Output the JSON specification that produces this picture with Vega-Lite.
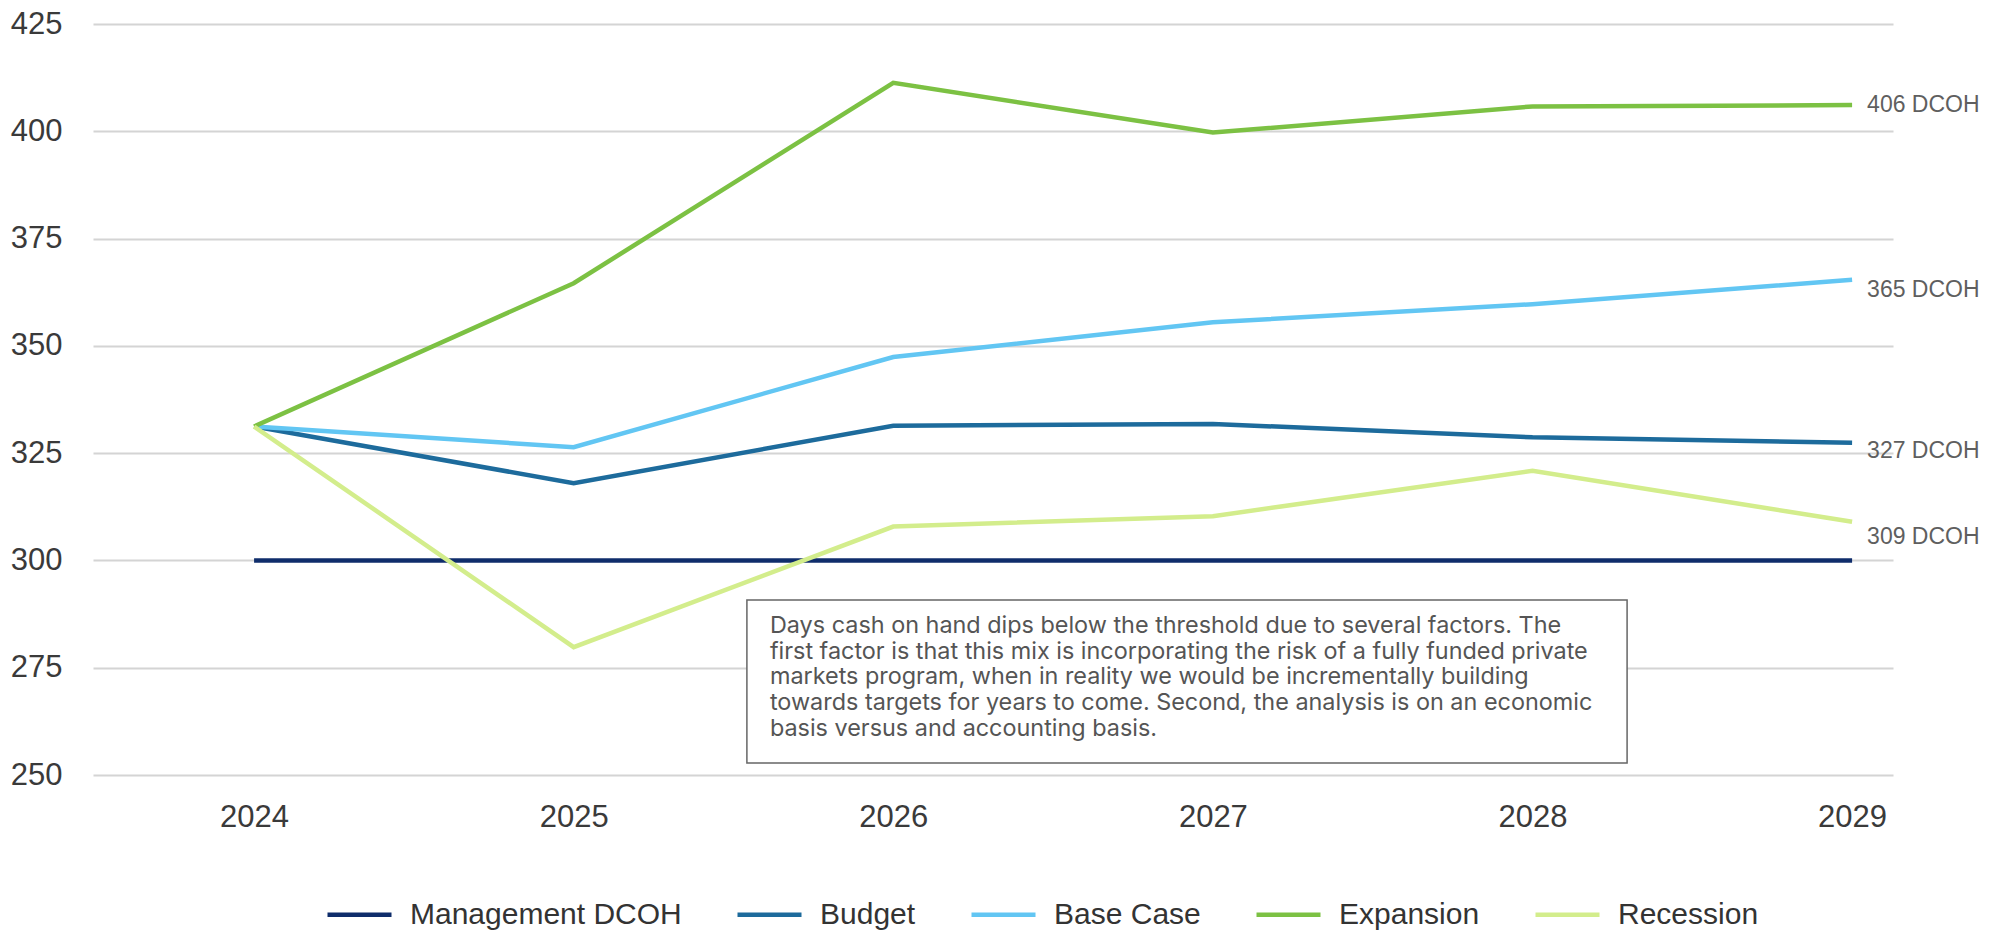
{
  "$schema": "https://vega.github.io/schema/vega-lite/v6.json",
  "autosize": "none",
  "width": 1800,
  "height": 751,
  "padding": {"left": 93, "top": 24, "right": 107, "bottom": 155},
  "background": "white",
  "config": {
    "view": {"stroke": null},
    "font": "Liberation Sans"
  },
  "datasets": {
    "series": [
      {"series": "Management DCOH", "year": 2024, "value": 300},
      {"series": "Management DCOH", "year": 2025, "value": 300},
      {"series": "Management DCOH", "year": 2026, "value": 300},
      {"series": "Management DCOH", "year": 2027, "value": 300},
      {"series": "Management DCOH", "year": 2028, "value": 300},
      {"series": "Management DCOH", "year": 2029, "value": 300},
      {"series": "Budget", "year": 2024, "value": 331.2},
      {"series": "Budget", "year": 2025, "value": 318},
      {"series": "Budget", "year": 2026, "value": 331.4},
      {"series": "Budget", "year": 2027, "value": 331.8},
      {"series": "Budget", "year": 2028, "value": 328.7},
      {"series": "Budget", "year": 2029, "value": 327.4, "label": "327 DCOH"},
      {"series": "Base Case", "year": 2024, "value": 331.2},
      {"series": "Base Case", "year": 2025, "value": 326.4},
      {"series": "Base Case", "year": 2026, "value": 347.4},
      {"series": "Base Case", "year": 2027, "value": 355.5},
      {"series": "Base Case", "year": 2028, "value": 359.7},
      {"series": "Base Case", "year": 2029, "value": 365.4, "label": "365 DCOH"},
      {"series": "Expansion", "year": 2024, "value": 331.2},
      {"series": "Expansion", "year": 2025, "value": 364.6},
      {"series": "Expansion", "year": 2026, "value": 411.3},
      {"series": "Expansion", "year": 2027, "value": 399.7},
      {"series": "Expansion", "year": 2028, "value": 405.8},
      {"series": "Expansion", "year": 2029, "value": 406.1, "label": "406 DCOH"},
      {"series": "Recession", "year": 2024, "value": 331.2},
      {"series": "Recession", "year": 2025, "value": 279.8},
      {"series": "Recession", "year": 2026, "value": 307.9},
      {"series": "Recession", "year": 2027, "value": 310.3},
      {"series": "Recession", "year": 2028, "value": 320.9},
      {"series": "Recession", "year": 2029, "value": 309, "label": "309 DCOH"}
    ],
    "note": [
      {"x": 2025.542, "x2": 2028.296, "y": 290.8, "y2": 252.8, "tx": 2025.614, "ty": 287.3,
       "text": ["Days cash on hand dips below the threshold due to several factors. The", "first factor is that this mix is incorporating the risk of a fully funded private", "markets program, when in reality we would be incrementally building", "towards targets for years to come. Second, the analysis is on an economic", "basis versus and accounting basis."]}
    ]
  },
  "layer": [
    {
      "data": {"name": "series"},
      "mark": {"type": "line", "strokeWidth": 4.5},
      "encoding": {
        "x": {
          "field": "year", "type": "quantitative",
          "scale": {"domain": [2023.496, 2029.128], "nice": false, "zero": false},
          "axis": {
            "title": null, "values": [2024, 2025, 2026, 2027, 2028, 2029], "format": "d",
            "grid": false, "domain": false, "ticks": false, "labelPadding": 27,
            "labelFontSize": 31, "labelColor": "#3a3a3a", "labelFont": "Liberation Sans"
          }
        },
        "y": {
          "field": "value", "type": "quantitative",
          "scale": {"domain": [250, 425], "nice": false, "zero": false},
          "axis": {
            "title": null, "values": [250, 275, 300, 325, 350, 375, 400, 425],
            "grid": true, "gridColor": "#d4d4d4", "gridWidth": 2,
            "domain": false, "ticks": false, "labelPadding": 31,
            "labelFontSize": 31, "labelColor": "#3a3a3a", "labelFont": "Liberation Sans"
          }
        },
        "color": {
          "field": "series", "type": "nominal",
          "scale": {
            "domain": ["Management DCOH", "Budget", "Base Case", "Expansion", "Recession"],
            "range": ["#0f2d6b", "#1d6b9c", "#62c6f3", "#7cc143", "#d3ed8c"]
          },
          "legend": {
            "title": null, "orient": "none", "direction": "horizontal",
            "legendX": 232, "legendY": 856,
            "symbolType": "stroke", "symbolSize": 4096, "symbolStrokeWidth": 4.5,
            "labelFontSize": 30, "labelColor": "#333333", "labelFont": "Liberation Sans",
            "labelOffset": 16, "columnPadding": 46, "labelLimit": 400
          }
        }
      }
    },
    {
      "data": {"name": "note"},
      "mark": {"type": "rect", "fill": "white", "stroke": "#666666", "strokeWidth": 1.5},
      "encoding": {
        "x": {"field": "x", "type": "quantitative"},
        "x2": {"field": "x2"},
        "y": {"field": "y", "type": "quantitative"},
        "y2": {"field": "y2"}
      }
    },
    {
      "data": {"name": "note"},
      "mark": {"type": "text", "align": "left", "baseline": "top", "fontSize": 23.4, "lineHeight": 25.7, "font": "Inter", "color": "#555555"},
      "encoding": {
        "x": {"field": "tx", "type": "quantitative"},
        "y": {"field": "ty", "type": "quantitative"},
        "text": {"field": "text"}
      }
    },
    {
      "data": {"name": "series"},
      "transform": [{"filter": "datum.series === 'Expansion' && datum.year === 2029"}],
      "mark": {"type": "text", "align": "left", "baseline": "middle", "dx": 15, "dy": 0, "fontSize": 23, "font": "Liberation Sans", "color": "#5f5f5f"},
      "encoding": {"x": {"field": "year", "type": "quantitative"}, "y": {"field": "value", "type": "quantitative"}, "text": {"field": "label"}}
    },
    {
      "data": {"name": "series"},
      "transform": [{"filter": "datum.series === 'Base Case' && datum.year === 2029"}],
      "mark": {"type": "text", "align": "left", "baseline": "middle", "dx": 15, "dy": 10, "fontSize": 23, "font": "Liberation Sans", "color": "#5f5f5f"},
      "encoding": {"x": {"field": "year", "type": "quantitative"}, "y": {"field": "value", "type": "quantitative"}, "text": {"field": "label"}}
    },
    {
      "data": {"name": "series"},
      "transform": [{"filter": "datum.series === 'Budget' && datum.year === 2029"}],
      "mark": {"type": "text", "align": "left", "baseline": "middle", "dx": 15, "dy": 8, "fontSize": 23, "font": "Liberation Sans", "color": "#5f5f5f"},
      "encoding": {"x": {"field": "year", "type": "quantitative"}, "y": {"field": "value", "type": "quantitative"}, "text": {"field": "label"}}
    },
    {
      "data": {"name": "series"},
      "transform": [{"filter": "datum.series === 'Recession' && datum.year === 2029"}],
      "mark": {"type": "text", "align": "left", "baseline": "middle", "dx": 15, "dy": 15, "fontSize": 23, "font": "Liberation Sans", "color": "#5f5f5f"},
      "encoding": {"x": {"field": "year", "type": "quantitative"}, "y": {"field": "value", "type": "quantitative"}, "text": {"field": "label"}}
    }
  ]
}
